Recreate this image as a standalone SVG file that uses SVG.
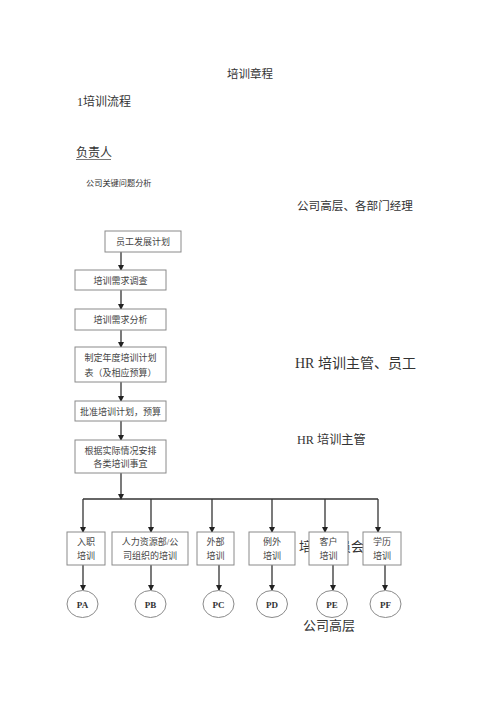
<svg xmlns="http://www.w3.org/2000/svg" width="500" height="707" viewBox="0 0 500 707">
<defs>
<marker id="ah" markerWidth="6" markerHeight="6" refX="5" refY="3" orient="auto" markerUnits="userSpaceOnUse">
<path d="M0,0 L6,3 L0,6 Z" fill="#222"/>
</marker>
<style>
.t{font-family:"Liberation Serif","Noto Sans CJK SC",serif;fill:#333}
.bt{font-family:"Liberation Serif","Noto Sans CJK SC",serif;fill:#444;font-size:9px;text-anchor:middle}
.box{fill:#fff;stroke:#8a8a8a;stroke-width:1}
.ell{fill:#fff;stroke:#8a8a8a;stroke-width:1}
.ln{fill:none;stroke:#333;stroke-width:1.3}
.ar{fill:none;stroke:#333;stroke-width:1.3;marker-end:url(#ah)}
.ct{font-family:"Liberation Serif",serif;fill:#333;font-size:9px;font-weight:bold;text-anchor:middle}
</style>
</defs>
<rect width="500" height="707" fill="#fff"/>
<text class="t" x="250" y="78" font-size="11.5" text-anchor="middle">培训章程</text>
<text class="t" x="77" y="106" font-size="12">1培训流程</text>
<text class="t" x="76" y="157" font-size="12">负责人</text>
<line x1="76" y1="159.5" x2="111" y2="159.5" stroke="#555" stroke-width="0.8"/>
<text class="t" x="86" y="186" font-size="8.2">公司关键问题分析</text>
<text class="t" x="297" y="210" font-size="11.6">公司高层、各部门经理</text>
<text class="t" x="295" y="368" font-size="14">HR 培训主管、员工</text>
<text class="t" x="297" y="444" font-size="12.2">HR 培训主管</text>
<text class="t" x="299" y="551" font-size="13">培训委员会</text>
<text class="t" x="303" y="630" font-size="13">公司高层</text>
<g id="connectors">
<line class="ar" x1="121" y1="252" x2="121" y2="270"/>
<line class="ar" x1="121" y1="290" x2="121" y2="309"/>
<line class="ar" x1="121" y1="330" x2="121" y2="347"/>
<line class="ar" x1="121" y1="382" x2="121" y2="401"/>
<line class="ar" x1="121" y1="421" x2="121" y2="440"/>
<line class="ar" x1="121" y1="473" x2="121" y2="499"/>
<line class="ln" x1="83" y1="499" x2="378" y2="499"/>
<line class="ar" x1="83" y1="499" x2="83" y2="532"/>
<line class="ar" x1="151" y1="499" x2="151" y2="532"/>
<line class="ar" x1="212" y1="499" x2="212" y2="532"/>
<line class="ar" x1="272" y1="499" x2="272" y2="532"/>
<line class="ar" x1="325" y1="499" x2="325" y2="532"/>
<line class="ar" x1="378" y1="499" x2="378" y2="532"/>
<line class="ar" x1="83" y1="565" x2="83" y2="590"/>
<line class="ar" x1="151" y1="565" x2="151" y2="590"/>
<line class="ar" x1="219" y1="565" x2="219" y2="590"/>
<line class="ar" x1="272" y1="565" x2="272" y2="590"/>
<line class="ar" x1="333" y1="565" x2="333" y2="590"/>
<line class="ar" x1="385" y1="565" x2="385" y2="590"/>
</g>
<g id="n1"><rect class="box" x="105" y="231" width="76" height="21"/><text class="bt" x="143" y="245">员工发展计划</text></g>
<g id="n2"><rect class="box" x="75" y="270" width="91" height="20"/><text class="bt" x="120.5" y="283.5">培训需求调查</text></g>
<g id="n3"><rect class="box" x="75" y="309" width="91" height="21"/><text class="bt" x="120.5" y="323">培训需求分析</text></g>
<g id="n4"><rect class="box" x="75" y="347" width="91" height="35"/><text class="bt" x="120.5" y="361">制定年度培训计划</text><text class="bt" x="120.5" y="376">表（及相应预算）</text></g>
<g id="n5"><rect class="box" x="75" y="401" width="91" height="20"/><text class="bt" x="120.5" y="414.5">批准培训计划，预算</text></g>
<g id="n6"><rect class="box" x="75" y="440" width="91" height="33"/><text class="bt" x="120.5" y="454">根据实际情况安排</text><text class="bt" x="120.5" y="467">各类培训事宜</text></g>
<g id="b1"><rect class="box" x="67" y="532" width="38" height="33"/><text class="bt" x="86" y="545">入职</text><text class="bt" x="86" y="559">培训</text></g>
<g id="b2"><rect class="box" x="112" y="532" width="76" height="33"/><text class="bt" x="150" y="545">人力资源部/公</text><text class="bt" x="150" y="559">司组织的培训</text></g>
<g id="b3"><rect class="box" x="197" y="532" width="37" height="33"/><text class="bt" x="215.5" y="545">外部</text><text class="bt" x="215.5" y="559">培训</text></g>
<g id="b4"><rect class="box" x="249" y="532" width="46" height="33"/><text class="bt" x="272" y="545">例外</text><text class="bt" x="272" y="559">培训</text></g>
<g id="b5"><rect class="box" x="309" y="532" width="39" height="33"/><text class="bt" x="328.5" y="545">客户</text><text class="bt" x="328.5" y="559">培训</text></g>
<g id="b6"><rect class="box" x="363" y="532" width="38" height="33"/><text class="bt" x="382" y="545">学历</text><text class="bt" x="382" y="559">培训</text></g>
<g id="pa"><ellipse class="ell" cx="82.5" cy="604" rx="15.5" ry="13.5"/><text class="ct" x="82.5" y="607.5">PA</text></g>
<g id="pb"><ellipse class="ell" cx="150.5" cy="604" rx="15.5" ry="13.5"/><text class="ct" x="150.5" y="607.5">PB</text></g>
<g id="pc"><ellipse class="ell" cx="218.5" cy="604" rx="15.5" ry="13.5"/><text class="ct" x="218.5" y="607.5">PC</text></g>
<g id="pd"><ellipse class="ell" cx="272" cy="604" rx="15.5" ry="13.5"/><text class="ct" x="272" y="607.5">PD</text></g>
<g id="pe"><ellipse class="ell" cx="332" cy="604" rx="15.5" ry="13.5"/><text class="ct" x="332" y="607.5">PE</text></g>
<g id="pf"><ellipse class="ell" cx="385.5" cy="604" rx="15.5" ry="13.5"/><text class="ct" x="385.5" y="607.5">PF</text></g>
</svg>
